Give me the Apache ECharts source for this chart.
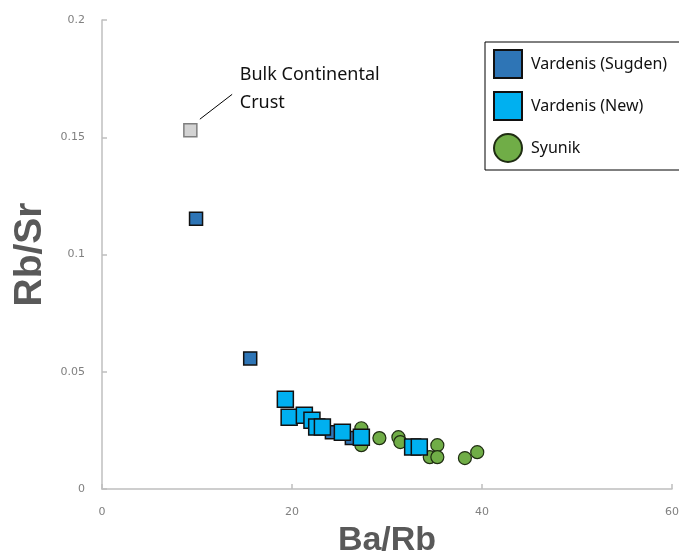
<!DOCTYPE html>
<html>
<head>
<meta charset="utf-8">
<title>Rb/Sr vs Ba/Rb</title>
<script src="https://cdn.jsdelivr.net/npm/echarts@6/dist/echarts.min.js"></script>
<style>
  html, body { margin: 0; padding: 0; background: #ffffff; }
  #chart { width: 679px; height: 553px; }
</style>
</head>
<body>
<div id="chart"></div>
<script>
// [Ba/Rb, Rb/Sr] pairs per sample group
const bulkCrust = [[9.3, 0.153]];
const vardenisSugden = [[9.9, 0.1152], [15.6, 0.0557], [24.2, 0.0242], [26.3, 0.0217]];
const vardenisNew = [
  [19.3, 0.0383], [19.7, 0.0306], [21.3, 0.0315], [22.1, 0.0293], [22.6, 0.0264],
  [23.2, 0.0264], [25.3, 0.0242], [27.3, 0.0221], [32.7, 0.0179], [33.4, 0.0179]
];
const syunik = [
  [27.3, 0.0259], [27.3, 0.0187], [29.2, 0.0217], [31.2, 0.0221], [31.4, 0.0200],
  [34.5, 0.0136], [35.3, 0.0187], [35.3, 0.0136], [38.2, 0.0132], [39.5, 0.0157]
];
const legendNames = ['Vardenis (Sugden)', 'Vardenis (New)', 'Syunik'];
const xTicks = { min: 0, max: 60, interval: 20 };
const yTicks = { min: 0, max: 0.2, interval: 0.05 };
// leader line from the crust marker to its label, and the label anchor
const crustLeader = [[10.3, 0.1577], [13.7, 0.1683]];
const crustLabelAt = [14.5, 0.1708];
const crustLabel = 'Bulk Continental\nCrust';

const chart = echarts.init(document.getElementById('chart'), null, { renderer: 'canvas' });

const axisGray = '#bfbfbf';
const tickLabel = { color: '#808080', fontSize: 11, fontFamily: 'DejaVu Sans' };
const titleStyle = { color: '#595959', fontSize: 34, fontWeight: 'bold', fontFamily: 'Liberation Sans' };

chart.setOption({
  animation: false,
  backgroundColor: '#ffffff',
  grid: { left: 102, right: 7, top: 20, bottom: 64, containLabel: false, outerBoundsMode: 'none' },
  xAxis: {
    type: 'value',
    min: xTicks.min, max: xTicks.max, interval: xTicks.interval,
    name: 'Ba/Rb', nameLocation: 'middle', nameGap: 35,
    nameTextStyle: titleStyle,
    axisLine: { show: true, lineStyle: { color: axisGray, width: 1.5 } },
    axisTick: { show: true, inside: true, length: 5, lineStyle: { color: axisGray, width: 1.5 } },
    axisLabel: Object.assign({ margin: 18 }, tickLabel),
    splitLine: { show: false }
  },
  yAxis: {
    type: 'value',
    min: yTicks.min, max: yTicks.max, interval: yTicks.interval,
    name: 'Rb/Sr', nameLocation: 'middle', nameGap: 52,
    nameTextStyle: Object.assign({}, titleStyle, { fontSize: 39 }),
    axisLine: { show: true, lineStyle: { color: axisGray, width: 1.5 } },
    axisTick: { show: true, inside: true, length: 5, lineStyle: { color: axisGray, width: 1.5 } },
    axisLabel: Object.assign({ margin: 17 }, tickLabel),
    splitLine: { show: false }
  },
  legend: {
    orient: 'vertical',
    left: 485, top: 42,
    data: legendNames,
    backgroundColor: '#ffffff',
    borderColor: '#000000', borderWidth: 1, borderRadius: 0,
    padding: [7, 13, 7, 8],
    itemGap: 12, itemWidth: 28, itemHeight: 28,
    textStyle: { color: '#111111', fontSize: 16, fontFamily: 'Noto Sans', padding: [0, 0, 0, 4] }
  },
  series: [
    {
      name: 'Bulk Continental Crust',
      type: 'scatter',
      data: bulkCrust,
      symbol: 'rect', symbolSize: 13,
      itemStyle: { color: '#d3d3d3', borderColor: '#7f7f7f', borderWidth: 1.5, opacity: 1 },
      markLine: {
        silent: true, symbol: 'none', animation: false,
        label: { show: false },
        lineStyle: { color: '#000000', width: 1, type: 'solid' },
        data: [[{ coord: crustLeader[0] }, { coord: crustLeader[1] }]]
      },
      markPoint: {
        silent: true, symbol: 'rect', symbolSize: 0, animation: false,
        itemStyle: { color: 'transparent' },
        label: {
          show: true, position: [0, 0], align: 'left', verticalAlign: 'middle',
          formatter: crustLabel, color: '#111111', fontSize: 18, lineHeight: 28,
          fontFamily: 'Noto Sans'
        },
        data: [{ coord: crustLabelAt }]
      }
    },
    {
      name: 'Vardenis (Sugden)',
      type: 'scatter',
      data: vardenisSugden,
      symbol: 'rect', symbolSize: 13,
      itemStyle: { color: '#2e75b6', borderColor: '#111111', borderWidth: 1.5, opacity: 1 }
    },
    {
      name: 'Syunik',
      type: 'scatter',
      data: syunik,
      symbol: 'circle', symbolSize: 13,
      itemStyle: { color: '#70ad47', borderColor: '#1f2d12', borderWidth: 1.2, opacity: 1 }
    },
    {
      name: 'Vardenis (New)',
      type: 'scatter',
      data: vardenisNew,
      symbol: 'rect', symbolSize: 16,
      itemStyle: { color: '#00b0f0', borderColor: '#111111', borderWidth: 1.5, opacity: 1 }
    }
  ]
});
</script>
</body>
</html>
